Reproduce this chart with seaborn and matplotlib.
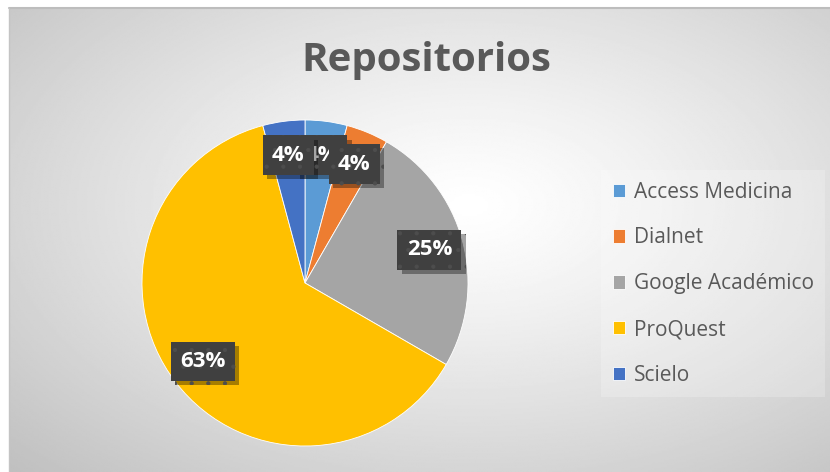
"""
Pie chart: Repositorios (Excel-style, radial grey background).
"""
import numpy as np
import matplotlib
matplotlib.use('Agg')
import matplotlib.pyplot as plt
import matplotlib.patheffects as pe
import seaborn as sns

sns.set_theme(style='white')
plt.rcParams['font.family'] = ['Open Sans', 'DejaVu Sans']
plt.rcParams['hatch.linewidth'] = 0.6

# data
categories = ['Access Medicina', 'Dialnet', 'Google Académico', 'ProQuest', 'Scielo']
counts = [1, 1, 6, 15, 1]
colors = ['#5B9BD5', '#ED7D31', '#A5A5A5', '#FFC000', '#4472C4']
title = 'Repositorios'

W, H = 830, 472
fig = plt.figure(figsize=(W / 100, H / 100), dpi=100)
fig.patch.set_facecolor('white')

# radial gradient background for the chart area
bg = fig.add_axes([9 / W, 0, 1 - 9 / W, 1 - 8 / H])
yy, xx = np.mgrid[-1:1:300j, -1:1:500j]
d = np.sqrt(((xx - 0.12) / 1.12) ** 2 + ((yy + 0.15) / 1.15) ** 2) / np.sqrt(2)
d = np.clip(d, 0, 1)
shade = 1 - 0.25 * d ** 1.2
bg.imshow(shade, cmap='gray', vmin=0, vmax=1, aspect='auto', extent=[0, 1, 0, 1])
bg.set_axis_off()
fig.add_artist(plt.Line2D([9 / W, 1], [1 - 8 / H, 1 - 8 / H], color='#bdbdbd', lw=1.5))
fig.add_artist(plt.Line2D([9 / W, 9 / W], [0, 1 - 8 / H], color='#c4c4c4', lw=1))

# pie axes: center (305, 283), radius 163 px
cx, cy, r = 305, 283, 163
ax = fig.add_axes([(cx - r) / W, (H - cy - r) / H, 2 * r / W, 2 * r / H])
ax.set_facecolor('none')

wedges, _, autotexts = ax.pie(
    counts, colors=colors, startangle=90, counterclock=False,
    autopct=lambda p: f'{int(p + 0.5)}%', pctdistance=0.79,
    wedgeprops=dict(edgecolor='white', linewidth=0.6))
ax.set_xlim(-1, 1)
ax.set_ylim(-1, 1)

zorders = [3, 4, 5, 6, 7]
for t, z in zip(autotexts, zorders):
    t.set_color('white')
    t.set_fontweight('bold')
    t.set_fontsize(16)
    t.set_zorder(z)
    t.set_bbox(dict(boxstyle='square,pad=0.42', facecolor='#404040',
                    edgecolor='#4d4d4d', linewidth=0, hatch='.'))
    t.get_bbox_patch().set_path_effects([
        pe.SimplePatchShadow(offset=(3, -3), shadow_rgbFace='black', alpha=0.35),
        pe.Normal()])

fig.text(426 / W, 1 - 61 / H, title, ha='center', va='center',
         fontsize=29, fontweight='bold', color='#595959')

leg = fig.legend(wedges, categories, loc='upper left',
                 bbox_to_anchor=(601 / W, 1 - 170 / H), borderaxespad=0,
                 frameon=True, framealpha=0.22, fontsize=15,
                 handlelength=0.6, handleheight=0.6,
                 handletextpad=0.4, labelspacing=1.19, borderpad=0.56,
                 fancybox=False)
leg.get_frame().set_facecolor('white')
leg.get_frame().set_edgecolor('none')
for txt in leg.get_texts():
    txt.set_color('#595959')

fig.savefig('out.png', dpi=100)
